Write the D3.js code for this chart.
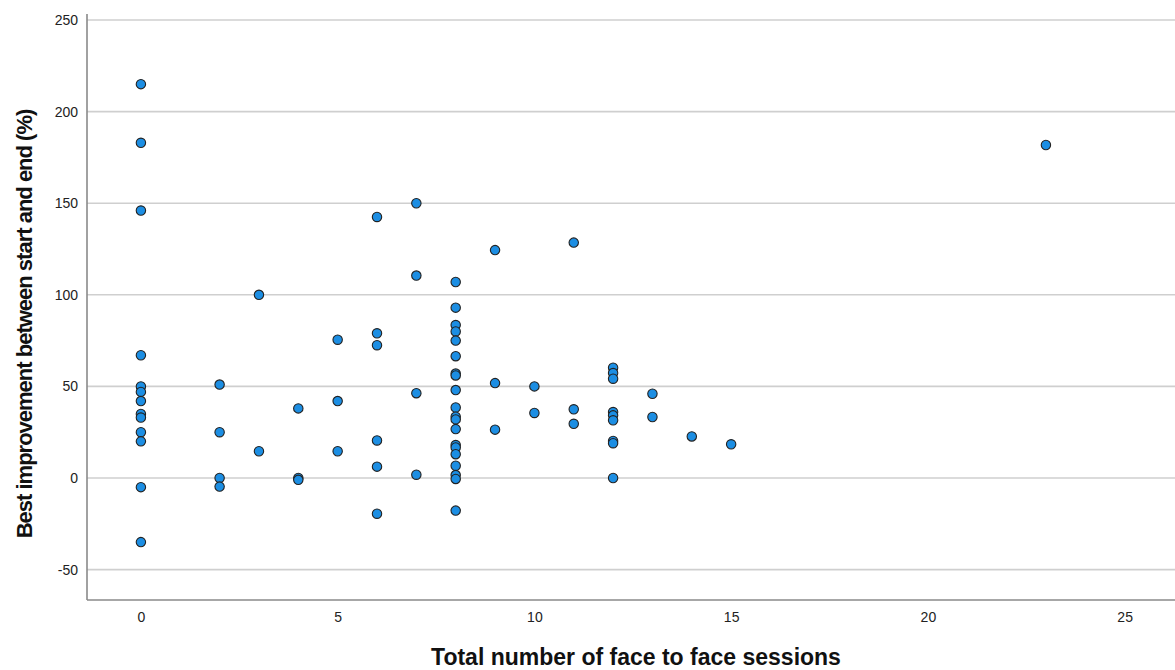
<!DOCTYPE html>
<html>
<head>
<meta charset="utf-8">
<script src="https://cdn.jsdelivr.net/npm/d3@7"></script>
<style>
  body { margin: 0; background: #fff; }
  svg text { font-family: "Liberation Sans", Arial, sans-serif; }
</style>
</head>
<body>
<svg id="chart" width="1175" height="670"></svg>
<script>
// sessions (x) and best improvement % (y)
const sessions = [
  0,0,0,0,0,0,0,0,0,0,0,0,0,
  2,2,2,2,
  3,3,
  4,4,4,
  5,5,5,
  6,6,6,6,6,6,
  7,7,7,7,
  8,8,8,8,8,8,8,8,8,8,8,8,8,8,8,8,8,8,8,8,
  9,9,9,
  10,10,
  11,11,11,
  12,12,12,12,12,12,12,12,12,
  13,13,
  14,
  15,
  23
];
const improvement = [
  215, 183, 146, 67, 50, 47, 42, 35, 33, 25, 20, -5, -35,
  51, 25, 0, -4.7,
  100, 14.6,
  38, 0, -1,
  75.5, 42, 14.6,
  142.5, 79, 72.5, 20.5, 6.2, -19.5,
  150, 110.5, 46.3, 1.8,
  107, 93, 83.5, 80, 75, 66.5, 57, 56, 48, 38.5, 33.5, 32, 26.7, 18, 16.7, 13, 6.7, 1.6, -0.5, -17.8,
  124.4, 51.8, 26.4,
  50, 35.5,
  128.5, 37.5, 29.6,
  60.2, 57.3, 54.2, 36, 34.2, 31.5, 20.2, 19, 0,
  46, 33.3,
  22.7,
  18.4,
  181.8
];
const xTicks = [0, 5, 10, 15, 20, 25];
const yTicks = [-50, 0, 50, 100, 150, 200, 250];
const xTitle = "Total number of face to face sessions";
const yTitle = "Best improvement between start and end (%)";

const points = sessions.map((s, i) => ({ x: s, y: improvement[i] }));

const svg = d3.select('#chart');
const plotLeft = 87, plotRight = 1175, plotTop = 14, plotBottom = 600;

let x = d3.scaleLinear().domain([-1.37, 26.28]).range([plotLeft, plotRight]);
let y = d3.scaleLinear().domain([-66.6, 253.3]).range([plotBottom, plotTop]);

// horizontal gridlines
svg.append('g')
    .selectAll('line')
    .data(yTicks)
    .join('line')
        .attr('x1', plotLeft)
        .attr('x2', plotRight)
        .attr('y1', d => y(d))
        .attr('y2', d => y(d))
        .attr('stroke', '#cfcfcf')
        .attr('stroke-width', 1.6);

// axes (no tick marks, labels only); plain hyphen for negatives like the original
let yAxis = d3.axisLeft(y).tickValues(yTicks).tickSize(0).tickPadding(9)
    .tickFormat(d => String(d));
let xAxis = d3.axisBottom(x).tickValues(xTicks).tickSize(0).tickPadding(12)
    .tickFormat(d => String(d));

let gy = svg.append('g')
    .attr('transform', `translate(${plotLeft},0)`)
    .call(yAxis);
let gx = svg.append('g')
    .attr('transform', `translate(0,${plotBottom})`)
    .call(xAxis);

[gx, gy].forEach(g => {
    g.select('.domain').remove();
    g.selectAll('text')
        .attr('font-size', 14)
        .attr('fill', '#222')
        .style('font-family', '"Liberation Sans", Arial, sans-serif');
});

// frame: left and bottom lines
svg.append('line')
    .attr('x1', plotLeft).attr('x2', plotLeft)
    .attr('y1', plotTop).attr('y2', plotBottom)
    .attr('stroke', '#8a8a8a').attr('stroke-width', 1.6);
svg.append('line')
    .attr('x1', plotLeft).attr('x2', plotRight)
    .attr('y1', plotBottom).attr('y2', plotBottom)
    .attr('stroke', '#8a8a8a').attr('stroke-width', 1.6);

// points
svg.append('g')
    .selectAll('circle')
    .data(points)
    .join('circle')
        .attr('cx', d => x(d.x))
        .attr('cy', d => y(d.y))
        .attr('r', 4.7)
        .attr('fill', '#1c8ee3')
        .attr('stroke', '#222')
        .attr('stroke-width', 1.1);

// titles
svg.append('text')
    .attr('x', 636)
    .attr('y', 665)
    .attr('text-anchor', 'middle')
    .attr('font-size', 23)
    .attr('font-weight', 'bold')
    .attr('fill', '#111')
    .text(xTitle);

svg.append('text')
    .attr('transform', 'translate(32,324) rotate(-90)')
    .attr('text-anchor', 'middle')
    .attr('font-size', 22)
    .attr('font-weight', 'bold')
    .attr('letter-spacing', -1)
    .attr('fill', '#111')
    .text(yTitle);
</script>
</body>
</html>
